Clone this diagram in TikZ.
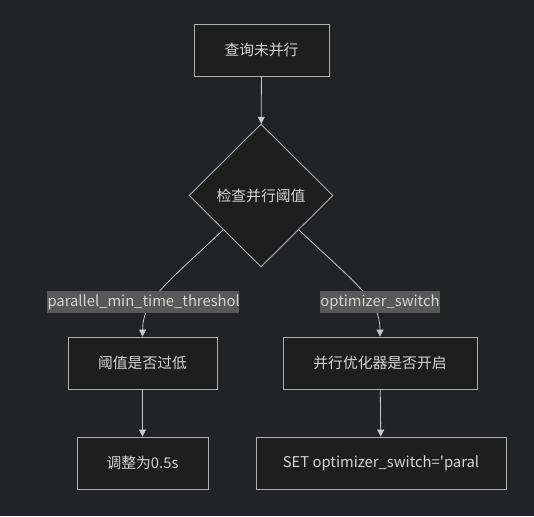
\documentclass[tikz,border=0pt]{standalone}
\usepackage{fontspec}
\newfontfamily\cjk{Noto Sans CJK SC}
\usetikzlibrary{shapes.geometric,arrows.meta}
\definecolor{bgc}{RGB}{34,35,38}
\definecolor{nodefill}{RGB}{30,30,30}
\definecolor{nodeline}{RGB}{175,175,175}
\definecolor{txt}{RGB}{212,212,212}
\definecolor{lblbg}{RGB}{88,88,88}
\definecolor{edgec}{RGB}{200,200,200}
\tikzset{
  box/.style={draw=nodeline, fill=nodefill, line width=0.9pt, rectangle, inner sep=0pt,
    text=txt, font=\cjk\fontsize{14.8pt}{17pt}\selectfont},
  dia/.style={draw=nodeline, fill=nodefill, line width=0.9pt, diamond, inner sep=0pt,
    text=txt, font=\cjk\fontsize{14.8pt}{17pt}\selectfont},
  lblbox/.style={fill=lblbg, rectangle, inner sep=0pt, minimum height=22pt},
  lbltext/.style={text=txt, font=\cjk\fontsize{14.8pt}{17pt}\selectfont, inner sep=0pt},
  edge/.style={draw=edgec, line width=0.8pt, -{Triangle[length=7pt,width=7pt]}},
}
\begin{document}
\begin{tikzpicture}[x=1pt,y=-1pt]
\useasboundingbox[fill=bgc] (0,0) rectangle (534,516);
% nodes
\node[box, minimum width=135pt, minimum height=52pt] (q) at (261.5,50) {查询未并行};
\node[dia, minimum width=144pt, minimum height=143pt] (d) at (261,195.5) {检查并行阈值};
\node[box, minimum width=149pt, minimum height=52pt] (b1) at (142.5,363) {阈值是否过低};
\node[box, minimum width=131pt, minimum height=52pt] (b2) at (142.5,463) {调整为0.5s};
\node[box, minimum width=194pt, minimum height=52pt] (b3) at (380,363) {并行优化器是否开启};
\node[box, minimum width=250pt, minimum height=52pt] (b4) at (381,463) {SET optimizer\_switch='paral};
% edges
\draw[edge] (q) -- (d);
\coordinate (dl) at (223,230);
\coordinate (dr) at (299,230);
\draw[edge] (dl) .. controls (165,285) and (143,300) .. (b1.north);
\draw[edge] (dr) .. controls (357,285) and (380,300) .. (b3.north);
\draw[edge] (b1) -- (b2);
\draw[edge] (b3) -- (b4);
% labels
\node[lblbox, minimum width=192pt] (l1) at (143,302) {};
\begin{scope}
  \clip (l1.south west) rectangle (l1.north east);
  \node[lbltext, anchor=west] (l1t) at ([xshift=0.5pt]l1.west) {parallel\_min\_time\_threshold};
\end{scope}
\node[lblbox, lbltext, minimum width=120pt, inner xsep=0pt] (l2) at (380,302) {optimizer\_switch};
\end{tikzpicture}
\end{document}
